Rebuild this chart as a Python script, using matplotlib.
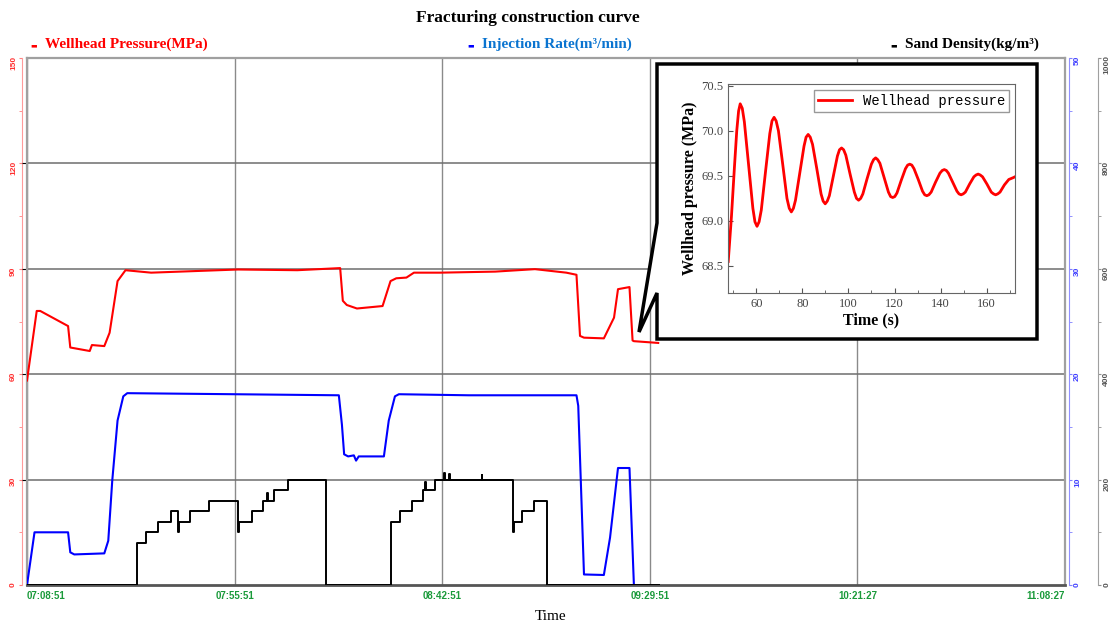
import numpy as np
import matplotlib
matplotlib.use('Agg')
import matplotlib.pyplot as plt
from matplotlib.ticker import MultipleLocator, FormatStrFormatter
from matplotlib.patches import Polygon

# temps en minutes depuis 07:08:51
t_press = [0, 2.2, 3.0, 9.3, 9.8, 14.2, 14.7, 17.5, 18.7, 20.5, 22.3, 28.1, 47.8,
           61.2, 70.9, 71.5, 72.4, 74.7, 80.5, 82.3, 83.6, 85.9, 87.6, 93.5, 106.0,
           115.0, 122.1, 124.4, 125.2, 126.1, 130.6, 132.9, 133.8, 136.4, 137.1,
           137.4, 142.9]
pression = [58.2, 78.0, 78.0, 73.7, 67.6, 66.6, 68.3, 68.0, 71.8, 86.5, 89.6, 88.9, 89.8,
            89.6, 90.2, 80.9, 79.7, 78.7, 79.4, 86.5, 87.3, 87.5, 88.9, 88.9, 89.2,
            89.9, 88.9, 88.3, 70.9, 70.4, 70.2, 76.1, 84.2, 84.8, 69.6,
            69.4, 68.9]  # MPa

t_debit = [0, 1.7, 9.3, 9.8, 10.7, 17.5, 18.4, 19.3, 20.5, 21.8, 22.7, 47.0, 70.6,
           71.3, 71.8, 72.7, 74.0, 74.5, 75.1, 80.8, 81.9, 83.3, 84.2, 100.0, 124.4,
           124.8, 126.1, 130.6, 132.0, 133.8, 136.4, 137.4]
debit = [0, 5.0, 5.0, 3.1, 2.9, 3.0, 4.2, 9.9, 15.6, 17.9, 18.2, 18.1, 18.0,
         15.2, 12.4, 12.2, 12.3, 11.8, 12.2, 12.2, 15.6, 17.9, 18.1, 18.0, 18.0,
         17.0, 1.0, 0.95, 4.5, 11.1, 11.1, 0]  # m3/min

t_sable = [0, 25.0, 27.0, 29.7, 32.6, 34.2, 34.4, 36.8, 41.1, 47.8, 48.1, 50.9, 53.4,
           54.4, 54.6, 55.9, 59.0, 67.7, 82.5, 84.5, 87.2, 89.7, 90.2, 90.4, 92.3,
           94.5, 94.7, 95.6, 95.8, 102.9, 103.1, 110.0, 110.3, 112.1, 114.8, 117.8, 143.0]
sable = [0, 80, 100, 120, 140, 100, 120, 140, 160, 100, 120, 140, 160,
         175, 160, 180, 200, 0, 120, 140, 160, 180, 195, 180, 200,
         212, 200, 210, 200, 208, 200, 100, 120, 140, 160, 0, 0]  # kg/m3

tick_pos = [0, 47, 94, 141, 188, 235]
tick_lab = ['07:08:51', '07:55:51', '08:42:51', '09:29:51', '10:21:27', '11:08:27']

# zoom: oscillations de pression en tête de puits (s, MPa)
t_zoom = [47.8, 49.2, 50.5, 51.5, 52.3, 53.0, 53.9, 54.8, 56.65, 58.5, 59.4, 60.3, 61.2,
          62.15, 64.0, 65.85, 66.8, 67.7, 68.6, 69.6, 71.45, 73.3, 74.3, 75.2, 76.1,
          77.0, 78.85, 80.7, 81.6, 82.5, 83.4, 84.4, 86.25, 88.1, 89.0, 89.9, 90.8,
          91.7, 93.45, 95.2, 96.1, 97.0, 97.9, 98.85, 100.7, 102.55, 103.5, 104.4, 105.3,
          106.25, 108.1, 109.95, 110.9, 111.8, 112.7, 113.65, 115.5, 117.35, 118.3, 119.2,
          120.1, 121.05, 122.9, 124.75, 125.7, 126.6, 127.5, 128.45, 130.3, 132.15, 133.1,
          134.0, 134.9, 135.9, 137.8, 139.7, 140.7, 141.6, 142.5, 143.4, 145.25, 147.1,
          148.0, 148.9, 149.8, 150.75, 152.6, 154.45, 155.4, 156.3, 157.2, 158.2, 160.1,
          162.0, 163.0, 163.9, 164.8, 165.8, 167.7, 169.6, 171.5, 172.3]
p_zoom = [68.55, 69.05, 69.6, 70.0, 70.22, 70.30, 70.25, 70.10, 69.62, 69.14, 68.99, 68.94,
          68.99, 69.12, 69.55, 69.97, 70.11, 70.15, 70.11, 70.00, 69.63, 69.25, 69.14,
          69.10, 69.14, 69.23, 69.53, 69.83, 69.93, 69.96, 69.93, 69.85, 69.58, 69.30,
          69.22, 69.19, 69.22, 69.28, 69.50, 69.72, 69.79, 69.81, 69.79, 69.73, 69.52,
          69.32, 69.25, 69.23, 69.25, 69.30, 69.47, 69.63, 69.68, 69.70, 69.68, 69.64,
          69.48, 69.32, 69.27, 69.26, 69.27, 69.31, 69.45, 69.58, 69.62, 69.63, 69.62,
          69.58, 69.46, 69.33, 69.29, 69.28, 69.29, 69.32, 69.43, 69.53, 69.56, 69.57,
          69.56, 69.53, 69.43, 69.33, 69.30, 69.29, 69.30, 69.32, 69.41, 69.49, 69.51,
          69.52, 69.51, 69.49, 69.41, 69.32, 69.30, 69.29, 69.30, 69.32, 69.40, 69.46,
          69.48, 69.49]

W, H = 1113, 624
def fx(x): return x / W
def fy(y): return 1 - y / H

serif = 'Liberation Serif'
sans = 'Liberation Sans'

fig = plt.figure(figsize=(W / 100, H / 100), dpi=100)
ax = fig.add_axes([fx(27), fy(585), fx(1065) - fx(27), fy(58) - fy(585)])

ax.plot(t_press, pression, color='#ff0000', lw=1.5, zorder=3)
ax.set_xlim(0, 235)
ax.set_ylim(0, 150)
ax.set_xticks(tick_pos)
ax.set_xticklabels(tick_lab, color='#1a9a3a', fontsize=7, fontweight='bold', family=sans)
labs = ax.get_xticklabels()
labs[0].set_ha('left')
labs[-1].set_ha('right')
ax.tick_params(axis='x', length=0, pad=4)
ax.set_yticks([30, 60, 90, 120])
ax.tick_params(axis='y', left=False, labelleft=False)
ax.grid(True, axis='x', color='#8a8a8a', lw=1.0)
ax.grid(True, axis='y', color='#6e6e6e', lw=1.1)
for s in ax.spines.values():
    s.set_color('#a0a0a0')
    s.set_linewidth(1.6)
ax.spines['bottom'].set_color('#555555')
ax.spines['bottom'].set_linewidth(2)
fig.text(fx(551), fy(617), 'Time', family=serif, fontsize=11, ha='center', va='center')

# axe rouge à gauche
sec = ax.secondary_yaxis(-0.005)
sec.set_yticks([0, 30, 60, 90, 120, 150])
sec.yaxis.set_minor_locator(MultipleLocator(15))
sec.spines['left'].set_color('#ff9a9a')
sec.tick_params(axis='y', which='both', colors='#ff8080', labelcolor='#ff3030',
                labelsize=6, labelrotation=90, length=2, pad=1.5)
for lab in sec.get_yticklabels():
    lab.set_fontweight('bold')
    lab.set_family(sans)

# débit (bleu)
ax2 = ax.twinx()
ax2.plot(t_debit, debit, color='#0000ff', lw=1.5, zorder=3)
ax2.set_ylim(0, 50)
ax2.set_yticks([0, 10, 20, 30, 40, 50])
ax2.yaxis.set_minor_locator(MultipleLocator(5))
for k in ['top', 'left', 'bottom']:
    ax2.spines[k].set_visible(False)
ax2.spines['right'].set_position(('outward', 3))
ax2.spines['right'].set_color('#9090ff')
ax2.tick_params(axis='y', which='both', colors='#8080ff', labelcolor='#4040ff',
                labelsize=6, labelrotation=90, length=2, pad=1.5)
for lab in ax2.get_yticklabels():
    lab.set_fontweight('bold')
    lab.set_family(sans)

# densité de sable (noir)
ax3 = ax.twinx()
ax3.plot(t_sable, sable, color='black', lw=1.4, drawstyle='steps-post', zorder=3)
ax3.set_ylim(0, 1000)
ax3.set_yticks([0, 200, 400, 600, 800, 1000])
ax3.yaxis.set_minor_locator(MultipleLocator(100))
for k in ['top', 'left', 'bottom']:
    ax3.spines[k].set_visible(False)
ax3.spines['right'].set_position(('outward', 24))
ax3.spines['right'].set_color('#a0a0a0')
ax3.tick_params(axis='y', which='both', colors='#909090', labelcolor='#555555',
                labelsize=6, labelrotation=90, length=2, pad=1.5)
for lab in ax3.get_yticklabels():
    lab.set_fontweight('bold')
    lab.set_family(sans)

# titre et légendes
fig.text(fx(528), fy(18), 'Fracturing construction curve', family=serif, fontsize=12.5,
         fontweight='bold', ha='center', va='center')
entetes = [(30, 45, 'Wellhead Pressure(MPa)', '#ff0000', '#ff0000'),
           (467, 482, 'Injection Rate(m³/min)', '#0000ff', '#0a74d0'),
           (890, 905, 'Sand Density(kg/m³)', 'black', 'black')]
for xm, xt, txt, c_mark, c_txt in entetes:
    fig.text(fx(xm), fy(45), '▬', color=c_mark, fontsize=5, va='center', family='DejaVu Sans')
    fig.text(fx(xt), fy(44), txt, color=c_txt, family=serif, fontsize=11,
             fontweight='bold', va='center')

# bulle du zoom
bulle = [(657, 64), (1037, 64), (1037, 339), (657, 339), (657, 293), (639, 332), (657, 223)]
poly = Polygon([(fx(x), fy(y)) for x, y in bulle], closed=True, transform=fig.transFigure,
               facecolor='white', edgecolor='black', lw=2.5, zorder=5)
fig.add_artist(poly)

axi = fig.add_axes([fx(728), fy(293), fx(1015) - fx(728), fy(84) - fy(293)], zorder=6)
axi.plot(t_zoom, p_zoom, color='#ff0000', lw=2, label='Wellhead pressure',
         solid_joinstyle='round')
axi.set_xlim(47.7, 172.3)
axi.set_ylim(68.2, 70.52)
axi.set_xticks([60, 80, 100, 120, 140, 160])
axi.xaxis.set_minor_locator(MultipleLocator(10))
axi.set_yticks([68.5, 69.0, 69.5, 70.0, 70.5])
axi.yaxis.set_major_formatter(FormatStrFormatter('%.1f'))
axi.tick_params(which='both', direction='in', labelsize=9, labelcolor='#444444',
                color='#555555')
axi.tick_params(which='minor', length=2)
for lab in axi.get_xticklabels() + axi.get_yticklabels():
    lab.set_family(serif)
for s in axi.spines.values():
    s.set_color('#666666')
axi.set_xlabel('Time (s)', family=serif, fontsize=11.5, fontweight='bold', labelpad=2)
axi.set_ylabel('Wellhead pressure (MPa)', family=serif, fontsize=11.5, fontweight='bold',
               labelpad=2)
axi.legend(loc='upper right', fancybox=False, edgecolor='#999999', framealpha=1,
           prop={'family': 'Liberation Mono', 'size': 10}, handlelength=2.4,
           borderpad=0.3, borderaxespad=0.4)

fig.savefig('out.png', dpi=100)
